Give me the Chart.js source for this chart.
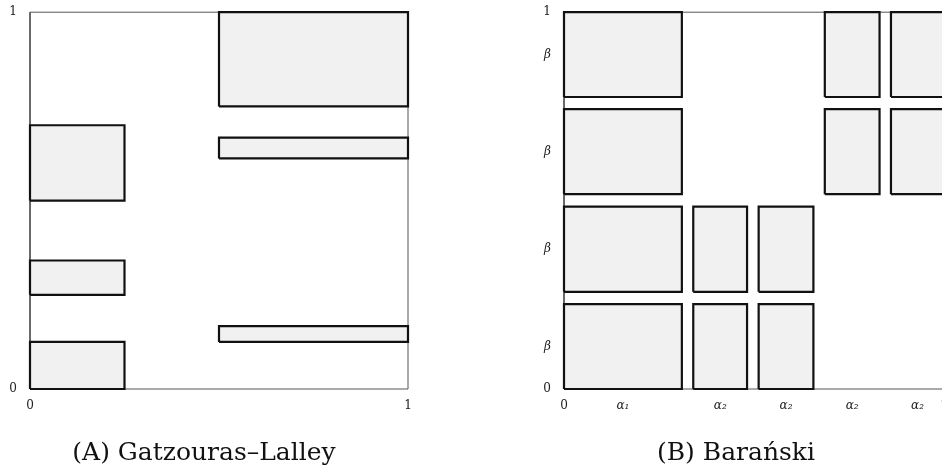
<!DOCTYPE html>
<html>
<head>
<meta charset="utf-8">
<script src="https://cdn.jsdelivr.net/npm/chart.js@4"></script>
<style>
  html, body { margin: 0; padding: 0; background: #fff; overflow: hidden; }
  #boxA { position: absolute; left: 0; top: -8px; width: 426px; height: 480px; }
  #boxB { position: absolute; left: 520px; top: -8px; width: 438px; height: 480px; }
</style>
</head>
<body>
<div id="boxA"><canvas id="chartA"></canvas></div>
<div id="boxB"><canvas id="chartB"></canvas></div>
<script>
// Painel A - Gatzouras-Lalley: retangulos [x0,x1] x [y0,y1]
var aX0 = [0.5, 0.5, 0, 0, 0, 0.5];
var aX1 = [1, 1, 0.25, 0.25, 0.25, 1];
var aY0 = [0.75, 0.612, 0.5, 0.25, 0, 0.125];
var aY1 = [1, 0.667, 0.7, 0.341, 0.125, 0.167];
var aXTicks = [0, 1];
var aXLabels = ['0', '1'];
var aYTicks = [0, 1];
var aYLabels = ['0', '1'];

// Painel B - Baranski: colunas, linhas e celulas ocupadas
var bColStart = [0, 0.34, 0.512, 0.686, 0.86];
var bColEnd = [0.31, 0.4815, 0.656, 0.83, 1];
var bRowStart = [0, 0.258, 0.517, 0.775];
var bRowEnd = [0.2255, 0.484, 0.743, 1];
var bCellCol = [0, 0, 0, 0, 1, 1, 2, 2, 3, 3, 4, 4];
var bCellRow = [0, 1, 2, 3, 0, 1, 0, 1, 2, 3, 2, 3];
var bXTicks = [0, 0.155, 0.411, 0.584, 0.758, 0.93, 1];
var bXLabels = ['0', 'α₁', 'α₂', 'α₂', 'α₂', 'α₂', '1'];
var bYTicks = [0, 0.1125, 0.371, 0.63, 0.8875, 1];
var bYLabels = ['0', 'β', 'β', 'β', 'β', '1'];

var corFundo = '#f1f1f1';
var corBorda = '#111111';
var fonteTick = 'DejaVu Serif';

// Monta o dataset de um retangulo (poligono fechado)
function retangulo(x0, x1, y0, y1) {
    return {
        data: [{x: x0, y: y0}, {x: x1, y: y0}, {x: x1, y: y1}, {x: x0, y: y1}, {x: x0, y: y0}],
        showLine: true,
        fill: 'shape',
        backgroundColor: corFundo,
        borderColor: corBorda,
        borderWidth: 2.2,
        borderJoinStyle: 'miter',
        pointRadius: 0,
        tension: 0,
        clip: false
    };
}

// Moldura do quadrado unitario
function moldura() {
    return {
        data: [{x: 0, y: 0}, {x: 1, y: 0}, {x: 1, y: 1}, {x: 0, y: 1}, {x: 0, y: 0}],
        showLine: true,
        fill: false,
        borderColor: '#555555',
        borderWidth: 1,
        pointRadius: 0,
        clip: false
    };
}

function eixo(ticks, labels, tamanho, padding, vertical) {
    return {
        type: 'linear',
        min: 0,
        max: 1,
        grid: { display: false, drawTicks: false },
        border: { display: false },
        afterBuildTicks: function(scale) {
            scale.ticks = ticks.map(function(v) { return { value: v }; });
        },
        afterFit: function(scale) {
            if (vertical) {
                scale.width = tamanho;
            } else {
                scale.height = tamanho;
            }
        },
        ticks: {
            autoSkip: false,
            maxRotation: 0,
            padding: padding,
            color: '#222',
            font: function(ctx) {
                var lbl = labels[ticks.indexOf(ctx.tick ? ctx.tick.value : -1)] || '';
                var italico = lbl.indexOf('α') === 0 || lbl === 'β';
                return { family: fonteTick, size: 12, style: italico ? 'italic' : 'normal' };
            },
            callback: function(value) {
                var i = ticks.indexOf(value);
                return i >= 0 ? labels[i] : '';
            }
        }
    };
}

function criarGrafico(id, datasets, eixoX, eixoY, titulo, paddingDir) {
    new Chart(id, {
        type: 'scatter',
        data: { datasets: datasets },
        options: {
            responsive: true,
            maintainAspectRatio: false,
            animation: false,
            events: [],
            layout: { padding: { top: 3, right: paddingDir, left: 0, bottom: 0 } },
            scales: { x: eixoX, y: eixoY },
            plugins: {
                legend: { display: false },
                tooltip: { enabled: false },
                title: {
                    display: true,
                    position: 'bottom',
                    text: titulo,
                    color: '#111',
                    font: { family: 'DejaVu Serif', size: 25, weight: 'normal' },
                    padding: { top: 18, bottom: 4 }
                }
            }
        }
    });
}

// Painel A
var dadosA = [];
for (let i = 0; i < aX0.length; i++) {
    dadosA.push(retangulo(aX0[i], aX1[i], aY0[i], aY1[i]));
}
dadosA.push(moldura());

criarGrafico('chartA', dadosA,
    eixo(aXTicks, aXLabels, 31, 10, false),
    eixo(aYTicks, aYLabels, 30, 13, true),
    '(A) Gatzouras–Lalley', 18);

// Painel B
var dadosB = [];
for (let i = 0; i < bCellCol.length; i++) {
    let c = bCellCol[i];
    let r = bCellRow[i];
    dadosB.push(retangulo(bColStart[c], bColEnd[c], bRowStart[r], bRowEnd[r]));
}
dadosB.push(moldura());

criarGrafico('chartB', dadosB,
    eixo(bXTicks, bXLabels, 31, 10, false),
    eixo(bYTicks, bYLabels, 44, 13, true),
    '(B) Barański', 6);
</script>
</body>
</html>
